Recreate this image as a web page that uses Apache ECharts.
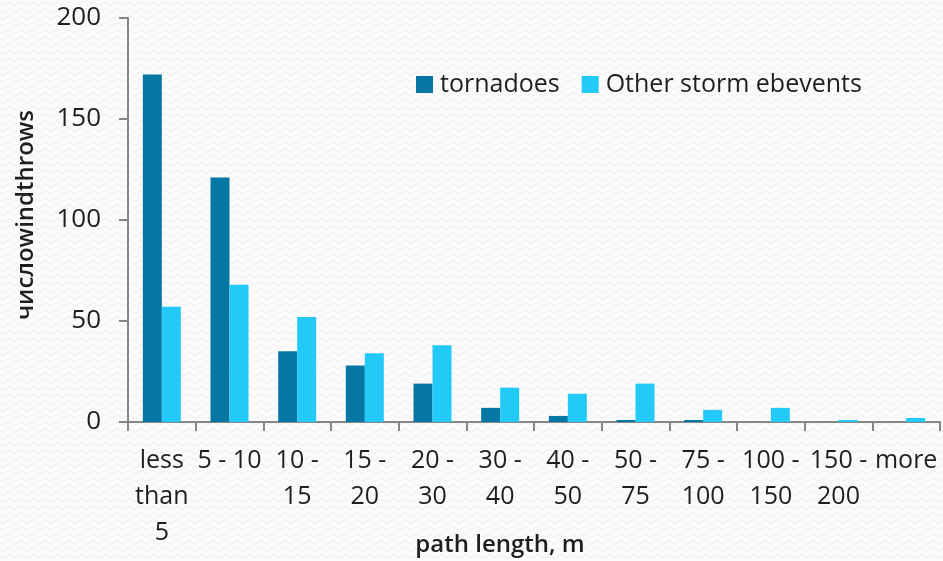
<!DOCTYPE html>
<html>
<head>
<meta charset="utf-8">
<script src="https://cdn.jsdelivr.net/npm/echarts@6/dist/echarts.min.js"></script>
<style>
  html, body { margin: 0; padding: 0; }
  #chart { width: 943px; height: 561px; }
</style>
</head>
<body>
<div id="chart"></div>
<script>
// Path length classes (tick labels, wrapped as drawn under the axis)
const categories = ['less\nthan\n5', '5 - 10', '10 -\n15', '15 -\n20', '20 -\n30', '30 -\n40',
                    '40 -\n50', '50 -\n75', '75 -\n100', '100 -\n150', '150 -\n200', 'more'];
// Number of windthrows per class
const tornadoes = [172, 121, 35, 28, 19, 7, 3, 1, 1, 0, 0, 0];
const otherStorms = [57, 68, 52, 34, 38, 17, 14, 19, 6, 7, 1, 2];
const yTicks = { min: 0, max: 200, interval: 50 };

// Faint wavy paper texture for the background
function wavePattern() {
  const c = document.createElement('canvas');
  c.width = 12; c.height = 7;
  const g = c.getContext('2d');
  g.fillStyle = '#fbfbfb';
  g.fillRect(0, 0, 12, 7);
  g.strokeStyle = '#ececec';
  g.lineWidth = 1;
  g.beginPath();
  for (let x = 0; x <= 12; x += 0.5) {
    const y = 3.5 + 1.6 * Math.sin(x / 12 * Math.PI * 2);
    if (x === 0) g.moveTo(x, y); else g.lineTo(x, y);
  }
  g.stroke();
  return c;
}

const font = '"Open Sans", "Noto Sans", sans-serif';
const textColor = '#1e1e1e';
const axisColor = '#868686';

const chart = echarts.init(document.getElementById('chart'), null, { renderer: 'canvas' });
chart.setOption({
  backgroundColor: { image: wavePattern(), repeat: 'repeat' },
  animation: false,
  textStyle: { fontFamily: font },
  grid: { left: 128, right: 3, top: 18, bottom: 139, containLabel: false, outerBoundsMode: 'none' },
  legend: {
    left: 411, top: 67,
    itemWidth: 17, itemHeight: 17, itemGap: 22,
    icon: 'rect',
    textStyle: { fontSize: 25, color: textColor, fontFamily: font, padding: [0, 0, 0, 2] },
    data: ['tornadoes', 'Other storm ebevents']
  },
  xAxis: {
    type: 'category',
    data: categories,
    name: 'path length, m',
    nameLocation: 'middle',
    nameMoveOverlap: false,
    nameGap: 111,
    nameTextStyle: { fontSize: 24, fontWeight: 600, color: textColor, fontFamily: font, padding: [0, 68, 0, 0] },
    axisLine: { lineStyle: { color: axisColor, width: 2 } },
    axisTick: { show: true, length: 9, lineStyle: { color: axisColor, width: 2 } },
    axisLabel: { interval: 0, fontSize: 25, lineHeight: 36, color: textColor, margin: 21, fontFamily: font }
  },
  yAxis: {
    type: 'value',
    min: yTicks.min, max: yTicks.max, interval: yTicks.interval,
    name: 'числоwindthrows',
    nameLocation: 'middle',
    nameMoveOverlap: false,
    nameGap: 90,
    nameTextStyle: { fontSize: 24, fontWeight: 600, color: textColor, fontFamily: font, padding: [0, 0, 0, 10] },
    splitLine: { show: false },
    axisLine: { show: true, lineStyle: { color: axisColor, width: 2 } },
    axisTick: { show: true, length: 9, lineStyle: { color: axisColor, width: 2 } },
    axisLabel: { fontSize: 26, color: textColor, margin: 27, fontFamily: font }
  },
  series: [
    {
      name: 'tornadoes', type: 'bar', data: tornadoes,
      barWidth: 19, barGap: '0%',
      itemStyle: { color: '#0676a3' }
    },
    {
      name: 'Other storm ebevents', type: 'bar', data: otherStorms,
      barWidth: 19, barGap: '0%',
      itemStyle: { color: '#23c9f7' }
    }
  ]
});
</script>
</body>
</html>
